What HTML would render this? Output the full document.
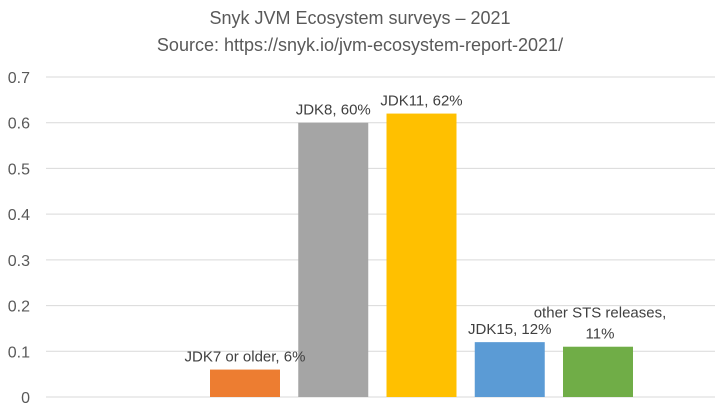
<!DOCTYPE html>
<html><head><meta charset="utf-8"><style>
body{margin:0;background:#fff;}
svg{display:block;font-family:"Liberation Sans",sans-serif;}
</style></head><body>
<svg width="720" height="413">
<text x="360" y="24" text-anchor="middle" font-size="18" fill="#595959">Snyk JVM Ecosystem surveys – 2021</text>
<text x="360" y="51" text-anchor="middle" font-size="18" fill="#595959">Source: https://snyk.io/jvm-ecosystem-report-2021/</text>
<g id="grid"></g><g id="bars"></g><g id="labels"></g>
</svg>
<script>
const categories=["JDK7 or older","JDK8","JDK11","JDK15","other STS releases"];
const values=[0.06,0.60,0.62,0.12,0.11];
const labelText=[["JDK7 or older, 6%"],["JDK8, 60%"],["JDK11, 62%"],["JDK15, 12%"],["other STS releases,","11%"]];
const colors=["#ed7d31","#a5a5a5","#ffc000","#5b9bd5","#70ad47"];
const ticks=[0,0.1,0.2,0.3,0.4,0.5,0.6,0.7];
const NS="http://www.w3.org/2000/svg";
const y0=397,y1=77,vmax=0.7;
const y=v=>y0-(v/vmax)*(y0-y1);
const step=88.25,firstCenter=245,bw=70;
const x=i=>firstCenter+i*step;
function mk(t,a,p){const e=document.createElementNS(NS,t);for(const k in a)e.setAttribute(k,a[k]);p.appendChild(e);return e;}
const g=document.getElementById('grid'),b=document.getElementById('bars'),l=document.getElementById('labels');
ticks.forEach(t=>{
 const ln=mk('line',{x1:46,x2:715,y1:y(t),y2:y(t),stroke:'#d9d9d9','stroke-width':1},g);
 
 
 const tx=mk('text',{x:30,y:y(t)+6,'text-anchor':'end','font-size':16,fill:'#595959'},g);
 tx.textContent=String(t);
 
 
});
values.forEach((v,i)=>{
 const r=mk('rect',{x:x(i)-bw/2,y:y(v),width:bw,height:y0-y(v),fill:colors[i]},b);
 
 
 const lines=labelText[i];
 lines.forEach((s,j)=>{
  const ty=y(v)-8-(lines.length-1-j)*21;
  const t=mk('text',{x:x(i)+(lines.length>1?2:0),y:ty,'text-anchor':'middle','font-size':15,fill:'#404040'},l);
  t.textContent=s;
  
  
 });
});
</script>
</body></html>
